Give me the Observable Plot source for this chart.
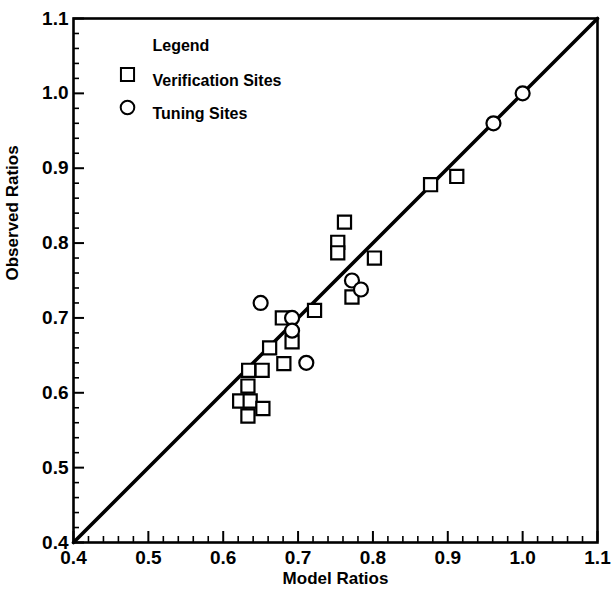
<!DOCTYPE html>
<html>
<head>
<meta charset="utf-8">
<script src="https://cdn.jsdelivr.net/npm/d3@7"></script>
<script src="https://cdn.jsdelivr.net/npm/@observablehq/plot@0.6"></script>
<style>
  html, body { margin: 0; padding: 0; background: #fff; }
  svg { font-family: "Liberation Sans", Arial, Helvetica, sans-serif; }
</style>
</head>
<body>
<div id="chart"></div>
<script>
// Verification sites (squares): model ratio, observed ratio
const verifModel = [0.877, 0.912, 0.762, 0.753, 0.753, 0.802, 0.772, 0.722, 0.679, 0.692, 0.662, 0.681, 0.634, 0.652, 0.633, 0.622, 0.636, 0.653, 0.633];
const verifObs   = [0.878, 0.889, 0.828, 0.801, 0.787, 0.780, 0.728, 0.710, 0.700, 0.668, 0.660, 0.639, 0.630, 0.630, 0.609, 0.589, 0.589, 0.579, 0.569];
// Tuning sites (circles)
const tuneModel = [0.650, 0.692, 0.692, 0.711, 0.772, 0.784, 1.000, 0.961];
const tuneObs   = [0.720, 0.700, 0.683, 0.640, 0.750, 0.738, 1.000, 0.960];
// 1:1 line
const lineX = [0.4, 1.1];
// ticks
const majorTicks = [0.4, 0.5, 0.6, 0.7, 0.8, 0.9, 1.0, 1.1];
const minorTicks = [0.42,0.44,0.46,0.48,0.52,0.54,0.56,0.58,0.62,0.64,0.66,0.68,0.72,0.74,0.76,0.78,0.82,0.84,0.86,0.88,0.92,0.94,0.96,0.98,1.02,1.04,1.06,1.08];
const legendTitle = "Legend";
const legendLabels = ["Verification Sites", "Tuning Sites"];
const legendSymbols = ["square", "circle"];
const xLabel = "Model Ratios";
const yLabel = "Observed Ratios";

const verif = verifModel.map((m, i) => ({x: m, y: verifObs[i]}));
const tune = tuneModel.map((m, i) => ({x: m, y: tuneObs[i]}));
const oneToOne = lineX.map(v => ({x: v, y: v}));

const W = 611, H = 597;
const mL = 73, mR = 14, mT = 18, mB = 55;
const plotH = H - mT - mB, plotW = W - mL - mR;
const LO = 0.4, HI = 1.1;
const MAJ = 11, MIN = 6;
const ink = "black";

const chart = Plot.plot({
  width: W,
  height: H,
  marginLeft: mL,
  marginRight: mR,
  marginTop: mT,
  marginBottom: mB,
  style: {fontFamily: '"Liberation Sans", Arial, sans-serif', fontSize: "17px"},
  x: {domain: [LO, HI]},
  y: {domain: [LO, HI]},
  marks: [
    // inward ticks
    Plot.tickX(majorTicks, {x: d => d, insetTop: plotH - MAJ, stroke: ink, strokeWidth: 2}),
    Plot.tickX(minorTicks, {x: d => d, insetTop: plotH - MIN, stroke: ink, strokeWidth: 1.6}),
    Plot.tickY(majorTicks, {y: d => d, insetRight: plotW - MAJ, stroke: ink, strokeWidth: 2}),
    Plot.tickY(minorTicks, {y: d => d, insetRight: plotW - MIN, stroke: ink, strokeWidth: 1.6}),
    Plot.frame({stroke: ink, strokeWidth: 2.6}),
    // tick labels
    Plot.axisX(majorTicks, {tickSize: 0, tickPadding: 8, tickFormat: d3.format(".1f"), fontSize: 19, fontWeight: "bold", label: null}),
    Plot.axisY(majorTicks, {tickSize: 0, tickPadding: 5, tickFormat: d3.format(".1f"), fontSize: 19, fontWeight: "bold", label: null}),
    // axis titles
    Plot.text([xLabel], {frameAnchor: "bottom", dy: 41, text: d => d, fontSize: 17, fontWeight: "bold", fill: ink}),
    Plot.text([yLabel], {frameAnchor: "left", dx: -61, rotate: -90, text: d => d, fontSize: 17, fontWeight: "bold", fill: ink}),
    // 1:1 line
    Plot.line(oneToOne, {x: "x", y: "y", stroke: ink, strokeWidth: 3.6}),
    // data
    Plot.dot(verif, {x: "x", y: "y", symbol: "square", r: 7.4, stroke: ink, strokeWidth: 2.2, fill: "white"}),
    Plot.dot(tune, {x: "x", y: "y", symbol: "circle", r: 7, stroke: ink, strokeWidth: 2.2, fill: "white"}),
    // legend
    Plot.text([legendTitle], {frameAnchor: "top-left", dx: 79, dy: 21, text: d => d, textAnchor: "start", fontSize: 16, fontWeight: "bold", fill: ink}),
    Plot.text([legendLabels[0]], {frameAnchor: "top-left", dx: 79, dy: 56, text: d => d, textAnchor: "start", fontSize: 16, fontWeight: "bold", fill: ink}),
    Plot.text([legendLabels[1]], {frameAnchor: "top-left", dx: 79, dy: 89, text: d => d, textAnchor: "start", fontSize: 16, fontWeight: "bold", fill: ink}),
    Plot.dot([legendSymbols[0]], {frameAnchor: "top-left", dx: 54, dy: 56, symbol: "square", r: 7.4, stroke: ink, strokeWidth: 2, fill: "white"}),
    Plot.dot([legendSymbols[1]], {frameAnchor: "top-left", dx: 54, dy: 89, symbol: "circle", r: 6.8, stroke: ink, strokeWidth: 2, fill: "white"})
  ]
});
document.getElementById("chart").appendChild(chart);
</script>
</body>
</html>
